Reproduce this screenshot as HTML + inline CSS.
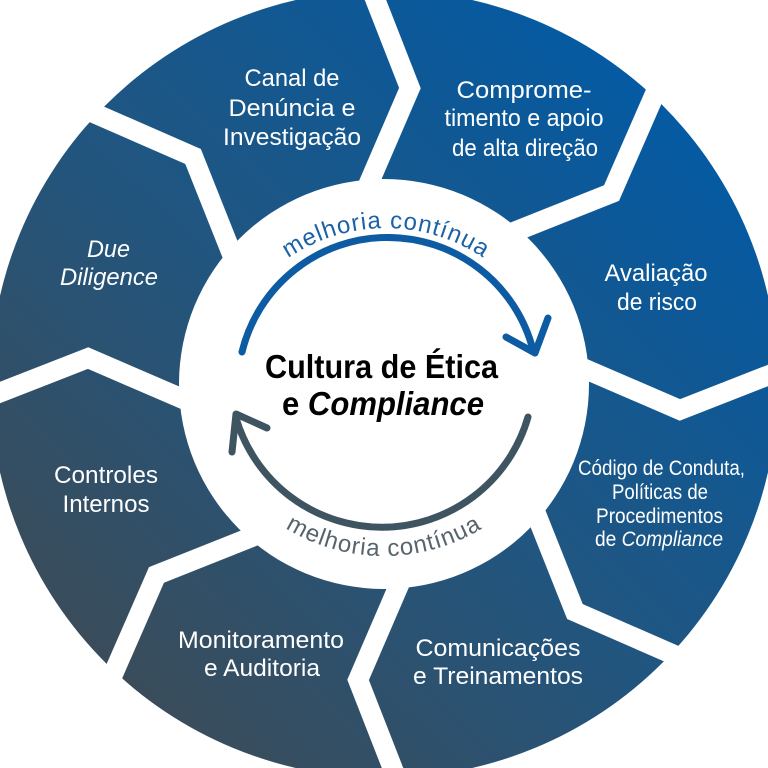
<!DOCTYPE html>
<html><head><meta charset="utf-8"><style>
html,body{margin:0;padding:0;background:#fff;width:768px;height:768px;overflow:hidden;}
svg{display:block;}
.s{fill:#fff;font-family:"Liberation Sans",sans-serif;font-size:24px;}
.sm{font-size:21px;}
</style></head><body>
<svg width="768" height="768" viewBox="0 0 768 768" xmlns="http://www.w3.org/2000/svg">
<defs>
<linearGradient id="g" x1="680" y1="90" x2="110" y2="690" gradientUnits="userSpaceOnUse">
<stop offset="0" stop-color="#035aa4"/>
<stop offset="0.5" stop-color="#1f5682"/>
<stop offset="1" stop-color="#3b4c59"/>
</linearGradient>
</defs>
<circle cx="384" cy="384" r="394" fill="url(#g)"/>
<g fill="none" stroke="#fff" stroke-width="20" stroke-linejoin="miter">
<polyline points="357.8,-45.2 409.9,88.1 368.3,184.6"/>
<polyline points="668.9,61.9 611.5,193.1 513.9,231.9"/>
<polyline points="813.2,357.8 679.9,409.9 583.4,368.3"/>
<polyline points="706.1,668.9 574.9,611.5 536.1,513.9"/>
<polyline points="410.2,813.2 358.1,679.9 399.7,583.4"/>
<polyline points="99.1,706.1 156.5,574.9 254.1,536.1"/>
<polyline points="-45.2,410.2 88.1,358.1 184.6,399.7"/>
<polyline points="61.9,99.1 193.1,156.5 231.9,254.1"/>
</g>
<circle cx="384" cy="384" r="205" fill="#fff"/>

<path d="M242 352 A150 150 0 0 1 533 350" fill="none" stroke="#0d5ca3" stroke-width="7" stroke-linecap="round"/>
<polyline points="506,337 535,353 548,318" fill="none" stroke="#0d5ca3" stroke-width="7" stroke-linecap="round" stroke-linejoin="round"/>
<path d="M528 417 A152 152 0 0 1 236 418" fill="none" stroke="#3e5460" stroke-width="7" stroke-linecap="round"/>
<polyline points="267,428 236,414 232,452" fill="none" stroke="#3e5460" stroke-width="7" stroke-linecap="round" stroke-linejoin="round"/>

<path id="tp" d="M212 402 A174 174 0 0 1 560 402" fill="none"/>
<path id="bp" d="M196 368 A188 188 0 0 0 572 368" fill="none"/>
<text font-family="Liberation Sans, sans-serif" font-size="24" fill="#1a62a8" letter-spacing="1"><textPath href="#tp" startOffset="50%" text-anchor="middle">melhoria contínua</textPath></text>
<text font-family="Liberation Sans, sans-serif" font-size="24" fill="#56646d" letter-spacing="1"><textPath href="#bp" startOffset="50%" text-anchor="middle">melhoria contínua</textPath></text>

<text x="265" y="378" font-family="Liberation Sans, sans-serif" font-weight="bold" font-size="33" fill="#000" textLength="233" lengthAdjust="spacingAndGlyphs">Cultura de Ética</text>
<text x="282" y="415" font-family="Liberation Sans, sans-serif" font-weight="bold" font-size="33" fill="#000" textLength="202" lengthAdjust="spacingAndGlyphs">e <tspan font-style="italic">Compliance</tspan></text>

<text class="s" x="244.5" y="86" textLength="95" lengthAdjust="spacingAndGlyphs">Canal de</text>
<text class="s" x="228.5" y="116" textLength="127" lengthAdjust="spacingAndGlyphs">Denúncia e</text>
<text class="s" x="223" y="145" textLength="138" lengthAdjust="spacingAndGlyphs">Investigação</text>

<text class="s" x="456.5" y="98" textLength="135" lengthAdjust="spacingAndGlyphs">Comprome-</text>
<text class="s" x="444.5" y="126" textLength="159" lengthAdjust="spacingAndGlyphs">timento e apoio</text>
<text class="s" x="452" y="156" textLength="146" lengthAdjust="spacingAndGlyphs">de alta direção</text>

<text class="s" x="604.5" y="281" textLength="103" lengthAdjust="spacingAndGlyphs">Avaliação</text>
<text class="s" x="617" y="310" textLength="80" lengthAdjust="spacingAndGlyphs">de risco</text>

<text class="s sm" x="578" y="475" textLength="167" lengthAdjust="spacingAndGlyphs">Código de Conduta,</text>
<text class="s sm" x="612" y="499" textLength="96" lengthAdjust="spacingAndGlyphs">Políticas de</text>
<text class="s sm" x="596" y="523" textLength="127" lengthAdjust="spacingAndGlyphs">Procedimentos</text>
<text class="s sm" x="595" y="546" textLength="128" lengthAdjust="spacingAndGlyphs">de <tspan font-style="italic">Compliance</tspan></text>

<text class="s" x="415.5" y="656" textLength="165" lengthAdjust="spacingAndGlyphs">Comunicações</text>
<text class="s" x="413" y="684" textLength="170" lengthAdjust="spacingAndGlyphs">e Treinamentos</text>

<text class="s" x="178" y="648" textLength="166" lengthAdjust="spacingAndGlyphs">Monitoramento</text>
<text class="s" x="204" y="676" textLength="116" lengthAdjust="spacingAndGlyphs">e Auditoria</text>

<text class="s" x="54" y="483" textLength="104" lengthAdjust="spacingAndGlyphs">Controles</text>
<text class="s" x="62.5" y="512" textLength="87" lengthAdjust="spacingAndGlyphs">Internos</text>

<text class="s" x="87" y="257" font-style="italic" textLength="43" lengthAdjust="spacingAndGlyphs">Due</text>
<text class="s" x="60" y="285" font-style="italic" textLength="98" lengthAdjust="spacingAndGlyphs">Diligence</text>
</svg>
</body></html>
